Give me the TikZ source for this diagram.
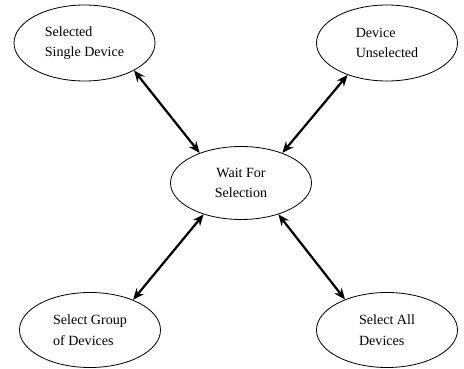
\documentclass[tikz,border=0pt]{standalone}
\usepackage{fontspec}
\setmainfont{Liberation Serif}
\usepackage{tikz}
\usetikzlibrary{arrows.meta,shapes.geometric}

\begin{document}
\begin{tikzpicture}[
  x=0.03cm,y=-0.03cm,
  state/.style={draw,ellipse,line width=0.7pt,minimum width=4.23cm,minimum height=2.28cm,align=left,
    font=\fontsize{12}{17.5}\selectfont},
  arr/.style={{Stealth[length=3.4mm,width=2.8mm]}-{Stealth[length=3.4mm,width=2.8mm]},line width=1.9pt}]
\useasboundingbox (0,0) rectangle (464,369);
\node[state] (single) at (84.5,43) {Selected\\Single Device};
\node[state] (unsel) at (387,43) {Device\\Unselected};
\node[state,align=center,minimum height=2.19cm] (wait) at (241,183) {Wait For\\Selection};
\node[state,minimum height=2.25cm] (group) at (90,330) {Select Group\\of Devices};
\node[state,minimum height=2.25cm] (all) at (387,330) {Select All\\Devices};
\draw[arr] (single.-29)--(wait.144); \draw[arr] (unsel.-141)--(wait.36);
\draw[arr] (group.35)--(wait.-140); \draw[arr] (all.144)--(wait.-40);
\end{tikzpicture}
\end{document}
